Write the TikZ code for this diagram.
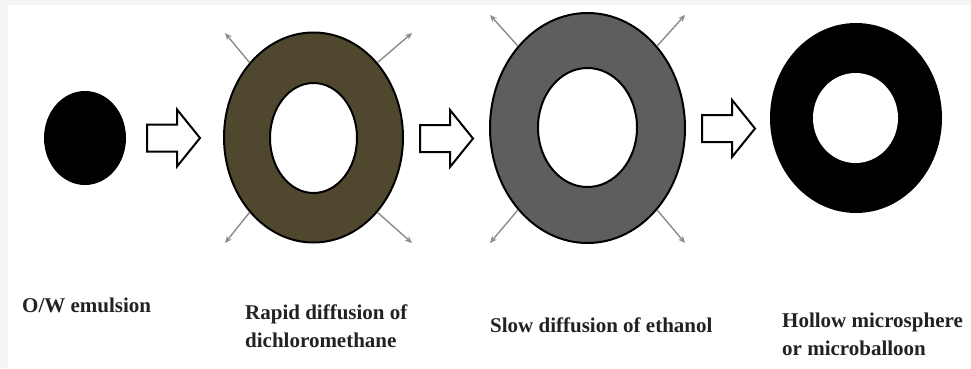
\documentclass[tikz,border=0pt]{standalone}
\usepackage{fontspec}
\setmainfont{Liberation Serif}
\usepackage{tikz}
\usetikzlibrary{arrows.meta,shapes.geometric}

\definecolor{olivering}{RGB}{80,72,46}
\definecolor{grayring}{RGB}{94,94,94}
\definecolor{diffgray}{RGB}{140,140,140}
\definecolor{labeltext}{RGB}{34,34,38}

\tikzset{
  blob/.style={ellipse, inner sep=0pt, draw=black, line width=2pt},
  hole/.style={ellipse, inner sep=0pt, fill=white, draw=black, line width=2pt},
  diffuse/.style={diffgray, line width=1.4pt, -{Stealth[length=7pt,width=6pt]}},
  blockarrow/.style={draw=black, line width=2pt, fill=white, line join=miter},
  lbl/.style={inner sep=0pt, font=\fontsize{21}{28}\selectfont\bfseries, text=labeltext, align=left},
  pics/hollowarr/.style={code={
    \draw[blockarrow] (0,13.5) -- (30,13.5) -- (30,28.5) -- (53,0) -- (30,-28.5) -- (30,-13.5) -- (0,-13.5) -- cycle;
  }},
}

\begin{document}
\begin{tikzpicture}[x=1pt,y=1pt]
	\fill[black!4] (0,0) rectangle (971,368);
	\fill[white] (8,0) rectangle (971,363);
	\useasboundingbox (0,0) rectangle (971,368);

	% emulsion droplet
	\node[blob, fill=black, minimum width=80pt, minimum height=92pt] (drop) at (85,230) {};

	% shell while dichloromethane leaves
	\node[blob, fill=olivering, minimum width=179pt, minimum height=210pt] (shellA) at (313.5,230.5) {};
	\node[hole, minimum width=87pt, minimum height=110pt] (coreA) at (313.5,230) {};

	% shell while ethanol leaves
	\node[blob, fill=grayring, minimum width=195pt, minimum height=230pt] (shellB) at (587.5,240) {};
	\node[hole, minimum width=99pt, minimum height=119pt] (coreB) at (587.5,240.5) {};

	% final microballoon
	\node[blob, fill=black, draw=none, minimum width=172pt, minimum height=190pt] (shellC) at (856,250) {};
	\node[hole, draw=none, minimum width=85pt, minimum height=90pt] (coreC) at (855.5,250) {};

	% block arrows
	\pic at (147,230) {hollowarr};
	\pic at (420,229.5) {hollowarr};
	\pic at (702,239.5) {hollowarr};

	% diffusion arrows
	\coordinate (tipAnw) at (225,335);
	\coordinate (tipAne) at (412,335);
	\coordinate (tipAsw) at (225,125);
	\coordinate (tipAse) at (412,125);
	\coordinate (tipBnw) at (490,353);
	\coordinate (tipBne) at (685,353);
	\coordinate (tipBsw) at (490,125);
	\coordinate (tipBse) at (685,125);
	\draw[diffuse] (shellA.north west) -- (tipAnw);
	\draw[diffuse] (shellA.north east) -- (tipAne);
	\draw[diffuse] (shellA.south west) -- (tipAsw);
	\draw[diffuse] (shellA.south east) -- (tipAse);
	\draw[diffuse] (shellB.north west) -- (tipBnw);
	\draw[diffuse] (shellB.north east) -- (tipBne);
	\draw[diffuse] (shellB.south west) -- (tipBsw);
	\draw[diffuse] (shellB.south east) -- (tipBse);

	% labels
	\node[lbl, anchor=base west] (lblDrop) at (22,56) {O/W emulsion};
	\node[lbl, anchor=north west] (lblShellA) at (245,63) {Rapid diffusion of\\dichloromethane};
	\node[lbl, anchor=base west] (lblShellB) at (490,36) {Slow diffusion of ethanol};
	\node[lbl, anchor=north west] (lblShellC) at (782,55) {Hollow microsphere\\or microballoon};
\end{tikzpicture}
\end{document}
